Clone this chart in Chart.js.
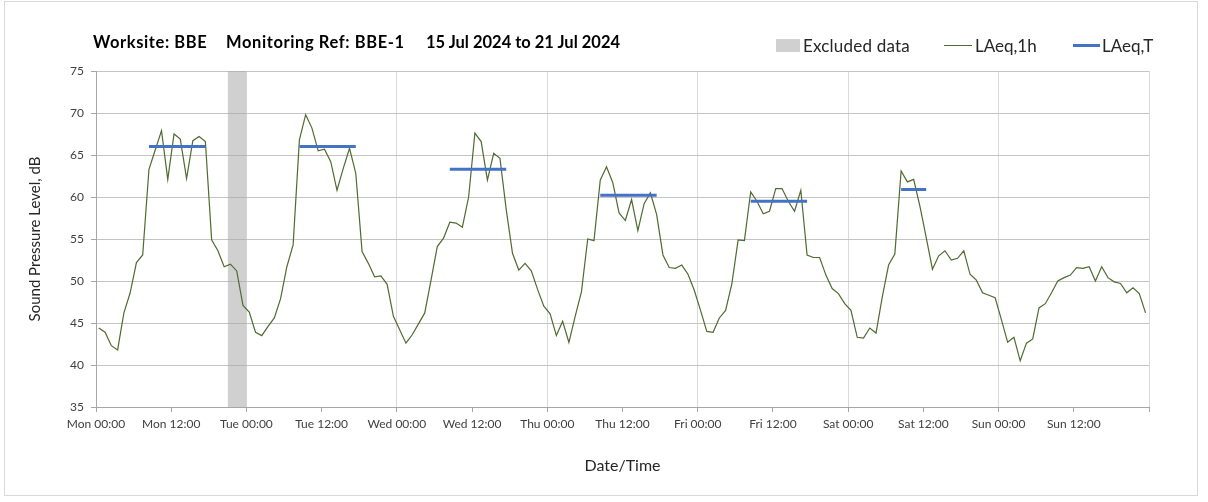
<!DOCTYPE html>
<html><head><meta charset="utf-8">
<script src="https://cdn.jsdelivr.net/npm/chart.js@4"></script>
<style>
html,body{margin:0;padding:0;background:#fff;}
#wrap{position:relative;width:1208px;height:502px;overflow:hidden;background:#fff;}
#frame{position:absolute;left:4px;top:1px;width:1194px;height:495px;border:1px solid #d9d9d9;box-sizing:border-box;}
canvas{position:absolute;left:0;top:0;}
.tt{position:absolute;top:32px;font:bold 16.5px Lato, sans-serif;white-space:pre;color:#000;}
.leg{position:absolute;top:35px;font:17px Lato, sans-serif;color:#262626;white-space:pre;}
.sw{position:absolute;}
</style></head>
<body>
<div id="wrap">
<div id="frame"></div>
<canvas id="c" width="1208" height="502"></canvas>
<div id="title"><span class="tt" style="left:93px;letter-spacing:0.6px">Worksite: BBE</span><span class="tt" style="left:226px;letter-spacing:0.6px">Monitoring Ref: BBE-1</span><span class="tt" style="left:426px">15 Jul 2024 to 21 Jul 2024</span></div>
<div class="sw" style="left:776px;top:39px;width:24px;height:13px;background:#d0d0d0"></div>
<div class="leg" style="left:803px;letter-spacing:0.2px">Excluded data</div>
<div class="sw" style="left:944px;top:45px;width:28px;height:1px;background:#4f6b2f"></div>
<div class="leg" style="left:975px">LAeq,1h</div>
<div class="sw" style="left:1073px;top:44px;width:27px;height:3px;background:#4472c4"></div>
<div class="leg" style="left:1102px">LAeq,T</div>
</div>
<script>
// Hourly LAeq,1h values, Mon 00:00 .. Sun 23:00
const laeq1h = [
 44.4,43.9,42.3,41.8,46.2,48.6,52.2,53.1,63.3,65.6,67.9,62.1,67.5,66.9,62.2,66.7,67.2,66.6,54.9,53.6,51.7,52.0,51.2,47.1,
 46.3,43.9,43.5,44.6,45.6,47.9,51.7,54.3,66.8,69.8,68.2,65.5,65.7,64.2,60.8,63.4,65.8,62.8,53.5,52.1,50.5,50.6,49.6,45.8,
 44.2,42.6,43.6,44.9,46.2,50.1,54.1,55.1,57.0,56.9,56.4,60.0,67.6,66.6,62.0,65.2,64.6,58.5,53.3,51.3,52.1,51.2,49.0,47.0,
 46.1,43.5,45.2,42.7,45.8,48.7,55.0,54.8,62.0,63.6,61.7,58.1,57.2,59.7,56.0,59.2,60.5,57.9,53.1,51.6,51.5,51.9,50.8,48.9,
 46.5,44.0,43.9,45.6,46.5,49.7,54.9,54.8,60.6,59.5,58.0,58.3,61.0,61.0,59.5,58.3,60.8,53.1,52.8,52.8,50.7,49.1,48.5,47.3,
 46.5,43.3,43.2,44.4,43.8,48.1,51.9,53.2,63.1,61.8,62.1,58.9,55.2,51.4,53.0,53.6,52.5,52.7,53.6,50.8,50.1,48.6,48.3,48.0,
 45.4,42.7,43.3,40.5,42.6,43.1,46.8,47.3,48.6,50.0,50.4,50.7,51.6,51.5,51.7,50.0,51.7,50.4,49.9,49.7,48.6,49.2,48.5,46.2
];
// LAeq,T periods (hour index of first/last sample) and values
const ltStartHour = [8, 32, 56, 80, 104, 128];
const ltEndHour   = [17, 41, 65, 89, 113, 132];
const ltValues    = [66.0, 66.0, 63.3, 60.2, 59.5, 60.9];
// Excluded data period (hours from Mon 00:00)
const excludedStart = 21;
const excludedEnd = 24;
// Axis
const dayNames = ['Mon','Tue','Wed','Thu','Fri','Sat','Sun'];
const xTickHours = [0,12,24,36,48,60,72,84,96,108,120,132,144,156,168];
const yTicks = [35,40,45,50,55,60,65,70,75];

const sampleOffset = 0.45;
const lineData = laeq1h.map((v,i)=>({x:i+sampleOffset,y:v}));
const ltData = [];
ltValues.forEach((v,k)=>{
  ltData.push({x:ltStartHour[k]+sampleOffset,y:v});
  ltData.push({x:ltEndHour[k]+sampleOffset,y:v});
  ltData.push({x:ltEndHour[k]+sampleOffset+0.5,y:null});
});
const exclData = [{x:excludedStart,y:yTicks[yTicks.length-1]},{x:excludedEnd,y:yTicks[yTicks.length-1]}];

const font = 'Lato, sans-serif';
new Chart(document.getElementById('c'), {
  type:'line',
  data:{datasets:[
    {label:'LAeq,T',data:ltData,borderColor:'#4472c4',borderWidth:3,pointRadius:0,spanGaps:false,order:1,tension:0},
    {label:'LAeq,1h',data:lineData,borderColor:'#4f6b2f',borderWidth:1.2,pointRadius:0,order:2,tension:0},
    {label:'Excluded data',data:exclData,borderWidth:0,pointRadius:0,fill:'start',backgroundColor:'rgba(170,170,170,0.55)',order:3}
  ]},
  options:{
    responsive:false, animation:false, devicePixelRatio:1,
    layout:{padding:{top:71,right:59,left:0,bottom:0}},
    plugins:{legend:{display:false},title:{display:false},tooltip:{enabled:false}},
    scales:{
      x:{type:'linear',min:0,max:168,
        afterFit(s){s.height=95;},
        afterBuildTicks(s){s.ticks=xTickHours.map(v=>({value:v}));},
        grid:{color:c=>(c.tick && c.tick.value%24===0)?'#d9d9d9':'rgba(0,0,0,0)',tickColor:'#a6a6a6',tickLength:5,drawTicks:true},
        border:{color:'#a6a6a6'},
        ticks:{autoSkip:false,maxRotation:0,padding:5,color:'#404040',font:{family:font,size:12},
          callback:(v)=> v>=168?'':dayNames[Math.floor(v/24)]+' '+(v%24===0?'00:00':'12:00')},
        title:{display:true,text:'Date/Time',color:'#262626',font:{family:font,size:16},padding:{top:0,bottom:27}}
      },
      y:{min:35,max:75,
        afterFit(s){s.width=96;},
        afterBuildTicks(s){s.ticks=yTicks.map(v=>({value:v}));},
        grid:{color:'#c4c4c4',tickColor:'#a6a6a6',tickLength:5},
        border:{color:'#a6a6a6'},
        ticks:{padding:7,color:'#404040',font:{family:font,size:12}},
        title:{display:true,text:'Sound Pressure Level, dB',color:'#262626',font:{family:font,size:15},padding:{top:26,bottom:0}}
      }
    }
  }
});
</script>
</body></html>
